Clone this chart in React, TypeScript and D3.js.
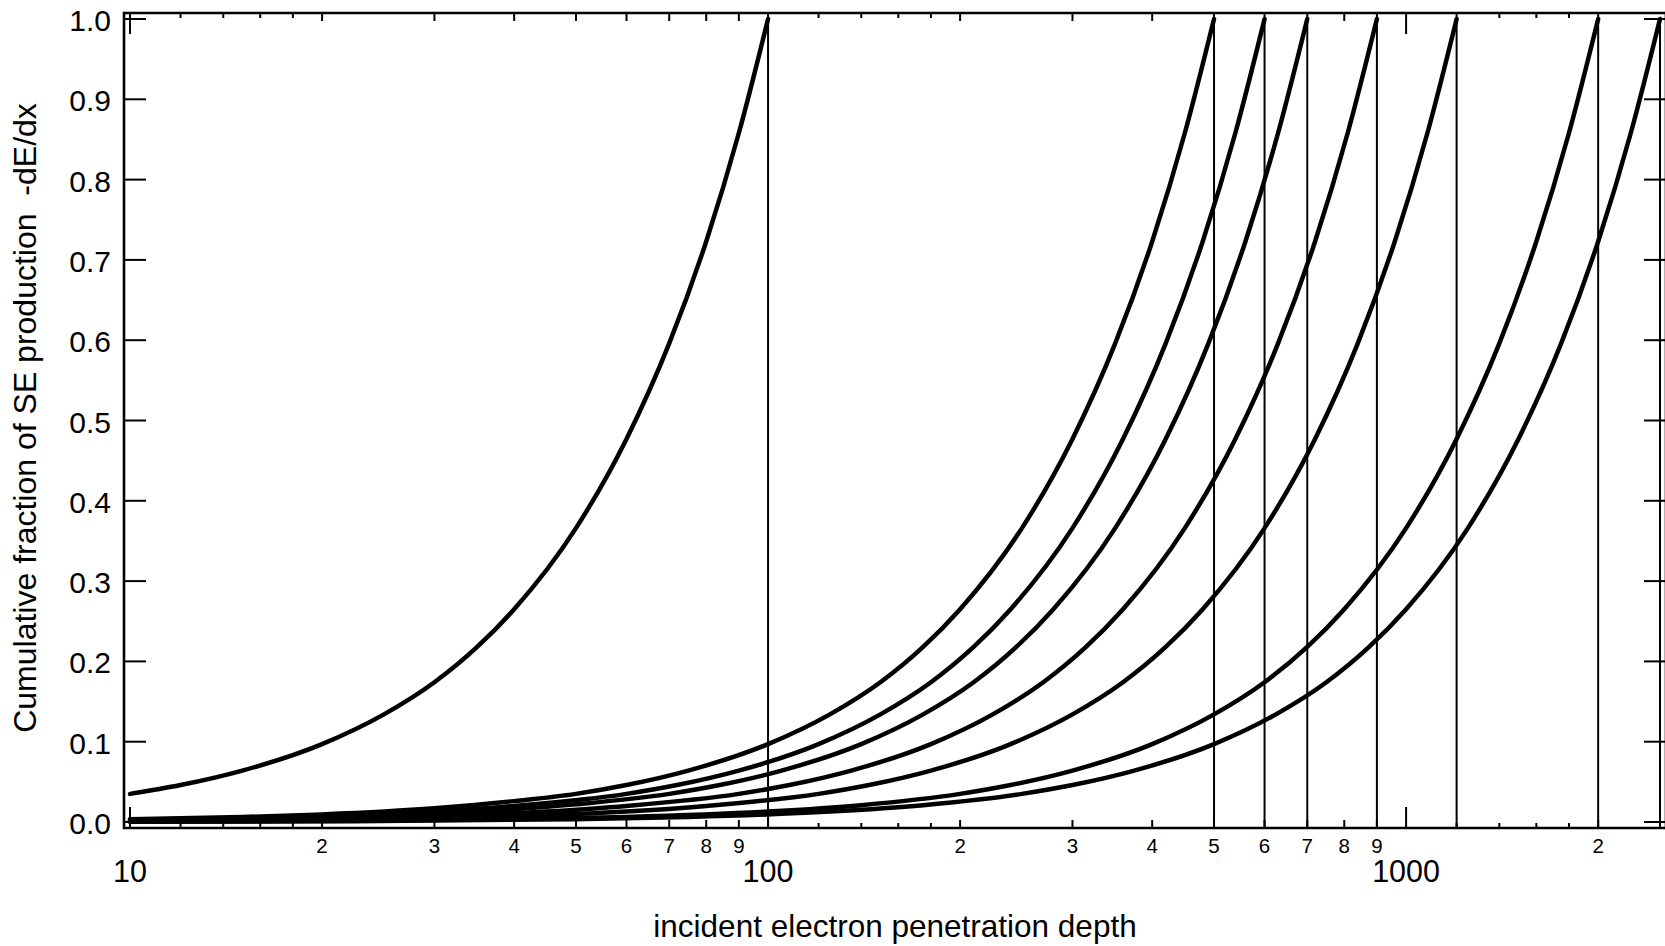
import React from "react";
import * as d3 from "d3";

// Depth at which each curve reaches its full cumulative fraction
const depthRanges = [100, 500, 600, 700, 900, 1200, 2000, 2500];

// Cumulative fraction of SE production vs. penetration depth, one pair of arrays per range
const depth100 = [10, 12, 15, 20, 25, 30, 35, 40, 50, 60, 70, 80, 90, 100];
const frac100 = [0.035, 0.046, 0.064, 0.097, 0.134, 0.174, 0.218, 0.265, 0.366, 0.477, 0.596, 0.723, 0.858, 1.0];

const depth500 = [10, 15, 20, 30, 40, 50, 60, 75, 100, 125, 150, 175, 200, 250, 300, 350, 400, 450, 500];
const frac500 = [0.0034, 0.0062, 0.0094, 0.017, 0.026, 0.035, 0.046, 0.064, 0.097, 0.134, 0.174, 0.218, 0.265, 0.366, 0.477, 0.596, 0.723, 0.858, 1.0];

const depth600 = [10, 15, 20, 30, 40, 60, 72, 90, 120, 150, 180, 210, 240, 300, 360, 420, 480, 540, 600];
const frac600 = [0.0026, 0.0048, 0.0072, 0.013, 0.02, 0.035, 0.046, 0.064, 0.097, 0.134, 0.174, 0.218, 0.265, 0.366, 0.477, 0.596, 0.723, 0.858, 1.0];

const depth700 = [10, 20, 35, 50, 70, 84, 105, 140, 175, 210, 245, 280, 350, 420, 490, 560, 630, 700];
const frac700 = [0.0021, 0.0058, 0.013, 0.022, 0.035, 0.046, 0.064, 0.097, 0.134, 0.174, 0.218, 0.265, 0.366, 0.477, 0.596, 0.723, 0.858, 1.0];

const depth900 = [10, 20, 45, 60, 90, 108, 135, 180, 225, 270, 315, 360, 450, 540, 630, 720, 810, 900];
const frac900 = [0.0015, 0.004, 0.013, 0.02, 0.035, 0.046, 0.064, 0.097, 0.134, 0.174, 0.218, 0.265, 0.366, 0.477, 0.596, 0.723, 0.858, 1.0];

const depth1200 = [10, 20, 40, 60, 80, 120, 144, 180, 240, 300, 360, 420, 480, 600, 720, 840, 960, 1080, 1200];
const frac1200 = [0.001, 0.0026, 0.0072, 0.013, 0.02, 0.035, 0.046, 0.064, 0.097, 0.134, 0.174, 0.218, 0.265, 0.366, 0.477, 0.596, 0.723, 0.858, 1.0];

const depth2000 = [10, 20, 40, 60, 100, 140, 200, 240, 300, 400, 500, 600, 700, 800, 1000, 1200, 1400, 1600, 1800, 2000];
const frac2000 = [0.0005, 0.0013, 0.0034, 0.0062, 0.013, 0.021, 0.035, 0.046, 0.064, 0.097, 0.134, 0.174, 0.218, 0.265, 0.366, 0.477, 0.596, 0.723, 0.858, 1.0];

const depth2500 = [10, 20, 50, 75, 125, 175, 250, 300, 375, 500, 625, 750, 875, 1000, 1250, 1500, 1750, 2000, 2250, 2500];
const frac2500 = [0.0003, 0.0009, 0.0034, 0.0062, 0.013, 0.021, 0.035, 0.046, 0.064, 0.097, 0.134, 0.174, 0.218, 0.265, 0.366, 0.477, 0.596, 0.723, 0.858, 1.0];

const seriesDepths = [depth100, depth500, depth600, depth700, depth900, depth1200, depth2000, depth2500];
const seriesFracs = [frac100, frac500, frac600, frac700, frac900, frac1200, frac2000, frac2500];

// Axis ticks
const xMajorTicks = [10, 100, 1000];
const xMajorLabels = ["10", "100", "1000"];
const xMidTicks = [20, 30, 40, 50, 60, 70, 80, 90, 200, 300, 400, 500, 600, 700, 800, 900, 2000];
const xMidLabels = ["2", "3", "4", "5", "6", "7", "8", "9", "2", "3", "4", "5", "6", "7", "8", "9", "2"];
const xSmallTicks = [12, 14, 16, 18, 120, 140, 160, 180, 1200, 1400, 1600, 1800];
const yTicks = [0, 0.1, 0.2, 0.3, 0.4, 0.5, 0.6, 0.7, 0.8, 0.9, 1.0];
const yTickLabels = ["0.0", "0.1", "0.2", "0.3", "0.4", "0.5", "0.6", "0.7", "0.8", "0.9", "1.0"];

const W = 1665;
const H = 946;
const FONT = "'Liberation Sans', Arial, Helvetica, sans-serif";

export default function App() {
  const x = d3.scaleLog().domain([10, 2500]).range([130, 1660]);
  const y = d3.scaleLinear().domain([0, 1]).range([822, 19]);
  const left = 124;
  const right = 1666;
  const top = 13;
  const bottom = 828;

  const line = d3
    .line<[number, number]>()
    .x((d) => x(d[0]))
    .y((d) => y(d[1]))
    .curve(d3.curveMonotoneX);

  const majorLen = 21;
  const midLen = 8;
  const smallLen = 5;
  const yTickLen = 22;

  return (
    <svg
      width={W}
      height={H}
      style={{ position: "absolute", left: 0, top: 0, background: "#fff" }}
      fontFamily={FONT}
    >
      <rect x={0} y={0} width={W} height={H} fill="#fff" />

      {/* drop lines at each range */}
      {depthRanges.map((r, i) => (
        <line key={"drop" + i} x1={x(r)} x2={x(r)} y1={y(1)} y2={bottom} stroke="#000" strokeWidth={2} />
      ))}

      {/* curves */}
      {seriesDepths.map((ds, i) => {
        const pts = ds.map((d, j) => [d, seriesFracs[i][j]] as [number, number]);
        return (
          <path
            key={"c" + i}
            d={line(pts) || ""}
            fill="none"
            stroke="#000"
            strokeWidth={4.5}
            strokeLinecap="round"
            strokeLinejoin="round"
          />
        );
      })}

      {/* frame */}
      <line x1={left} x2={W} y1={top} y2={top} stroke="#000" strokeWidth={2.6} />
      <line x1={left} x2={W} y1={bottom} y2={bottom} stroke="#000" strokeWidth={2.6} />
      <line x1={left} x2={left} y1={top - 1.3} y2={bottom + 1.3} stroke="#000" strokeWidth={2.6} />
      <line x1={right} x2={right} y1={top - 1.3} y2={bottom + 1.3} stroke="#000" strokeWidth={2.6} />

      {/* x ticks, bottom and top */}
      {xMajorTicks.map((t, i) => (
        <g key={"xM" + i}>
          <line x1={x(t)} x2={x(t)} y1={bottom} y2={bottom - majorLen} stroke="#000" strokeWidth={2} />
          <line x1={x(t)} x2={x(t)} y1={top} y2={top + majorLen} stroke="#000" strokeWidth={2} />
          <text x={x(t)} y={882} fontSize={30.5} textAnchor="middle" fill="#000">
            {xMajorLabels[i]}
          </text>
        </g>
      ))}
      {xMidTicks.map((t, i) => (
        <g key={"xm" + i}>
          <line x1={x(t)} x2={x(t)} y1={bottom} y2={bottom - midLen} stroke="#000" strokeWidth={2} />
          <line x1={x(t)} x2={x(t)} y1={top} y2={top + midLen} stroke="#000" strokeWidth={2} />
          <text x={x(t)} y={853} fontSize={20.5} textAnchor="middle" fill="#000">
            {xMidLabels[i]}
          </text>
        </g>
      ))}
      {xSmallTicks.map((t, i) => (
        <g key={"xs" + i}>
          <line x1={x(t)} x2={x(t)} y1={bottom} y2={bottom - smallLen} stroke="#000" strokeWidth={2} />
          <line x1={x(t)} x2={x(t)} y1={top} y2={top + smallLen} stroke="#000" strokeWidth={2} />
        </g>
      ))}

      {/* y ticks, left and right */}
      {yTicks.map((t, i) => (
        <g key={"y" + i}>
          <line x1={left} x2={left + yTickLen} y1={y(t)} y2={y(t)} stroke="#000" strokeWidth={2} />
          <line x1={right} x2={right - yTickLen} y1={y(t)} y2={y(t)} stroke="#000" strokeWidth={2} />
          <text x={111} y={y(t) + 12} fontSize={30} textAnchor="end" fill="#000">
            {yTickLabels[i]}
          </text>
        </g>
      ))}

      {/* axis titles */}
      <text x={895} y={937} fontSize={31.5} textAnchor="middle" fill="#000">
        incident electron penetration depth
      </text>
      <text
        transform={`translate(36, 418) rotate(-90)`}
        fontSize={32}
        textAnchor="middle"
        fill="#000"
        style={{ whiteSpace: "pre" }}
      >
        {"Cumulative fraction of SE production  -dE/dx"}
      </text>
    </svg>
  );
}
